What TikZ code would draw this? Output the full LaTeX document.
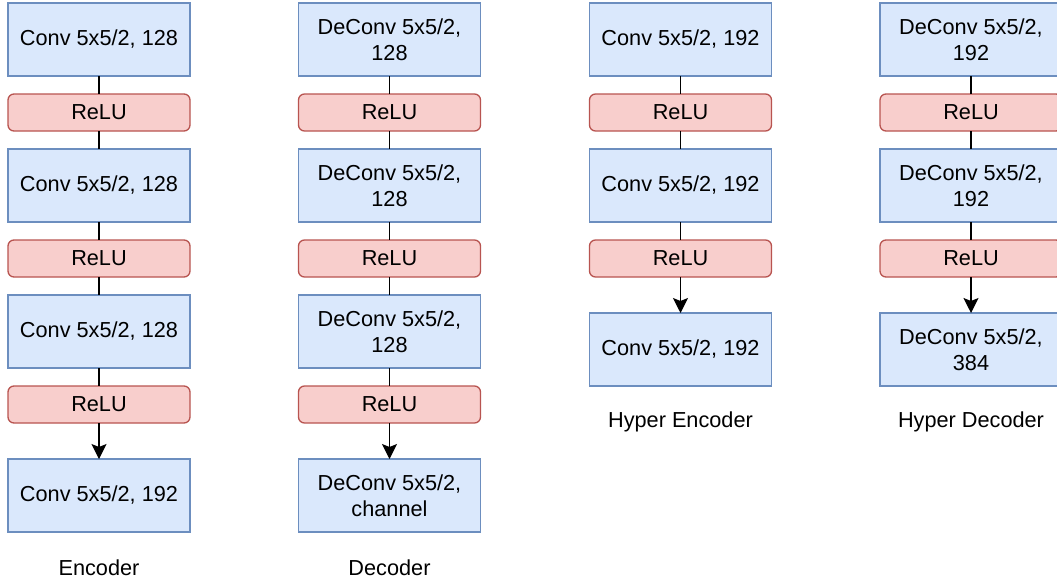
\documentclass[tikz,border=0pt]{standalone}
\usepackage{fontspec}
\setmainfont{Liberation Sans}
\usetikzlibrary{positioning,arrows.meta}
\definecolor{convfill}{HTML}{DAE8FC}
\definecolor{convline}{HTML}{6C8EBF}
\definecolor{relufill}{HTML}{F8CECC}
\definecolor{reluline}{HTML}{B85450}

\begin{document}
\begin{tikzpicture}[x=1pt,y=1pt,
    node distance=18pt,
    every node/.style={font=\fontsize{21.7}{25.5}\selectfont},
    conv/.style={draw=convline, fill=convfill, line width=1.3pt, minimum width=182pt,
      minimum height=73pt, inner sep=0pt, outer sep=0pt, align=center},
    relu/.style={draw=reluline, fill=relufill, line width=1.3pt, rounded corners=6pt,
      minimum width=182pt, minimum height=37pt, inner sep=0pt, outer sep=0pt},
    link/.style={line width=1.3pt},
    arrow/.style={line width=1.3pt, -{Stealth[length=15pt,width=15pt,inset=3pt]}}]
  \useasboundingbox (0,0) rectangle (1057,-581);

  % encoder
  \node (e1) [conv] at (99,-39.5) {Conv 5x5/2, 128};
  \node (er1) [relu, below=of e1] {ReLU};
  \node (e2) [conv, below=of er1] {Conv 5x5/2, 128};
  \node (er2) [relu, below=of e2] {ReLU};
  \node (e3) [conv, below=of er2] {Conv 5x5/2, 128};
  \node (er3) [relu, below=of e3] {ReLU};
  \node (e4) [conv, below=36pt of er3] {Conv 5x5/2, 192};
  \node (enc) at (99,-568) {Encoder};

  % decoder
  \node (d1) [conv] at (389.5,-39.5) {DeConv 5x5/2,\\128};
  \node (dr1) [relu, below=of d1] {ReLU};
  \node (d2) [conv, below=of dr1] {DeConv 5x5/2,\\128};
  \node (dr2) [relu, below=of d2] {ReLU};
  \node (d3) [conv, below=of dr2] {DeConv 5x5/2,\\128};
  \node (dr3) [relu, below=of d3] {ReLU};
  \node (d4) [conv, below=36pt of dr3] {DeConv 5x5/2,\\channel};
  \node (dec) at (389.5,-568) {Decoder};

  % hyper encoder
  \node (he1) [conv] at (680.5,-39.5) {Conv 5x5/2, 192};
  \node (her1) [relu, below=of he1] {ReLU};
  \node (he2) [conv, below=of her1] {Conv 5x5/2, 192};
  \node (her2) [relu, below=of he2] {ReLU};
  \node (he3) [conv, below=36pt of her2] {Conv 5x5/2, 192};
  \node (henc) at (680.5,-422) {Hyper Encoder};

  % hyper decoder
  \node (hd1) [conv] at (971,-39.5) {DeConv 5x5/2,\\192};
  \node (hdr1) [relu, below=of hd1] {ReLU};
  \node (hd2) [conv, below=of hdr1] {DeConv 5x5/2,\\192};
  \node (hdr2) [relu, below=of hd2] {ReLU};
  \node (hd3) [conv, below=36pt of hdr2] {DeConv 5x5/2,\\384};
  \node (hdec) at (971,-422) {Hyper Decoder};

  \draw [link] (e1) -- (er1) -- (e2) -- (er2) -- (e3) -- (er3);
  \draw [arrow] (er3) -- (e4);
  \draw [link] (d1) -- (dr1) -- (d2) -- (dr2) -- (d3) -- (dr3);
  \draw [arrow] (dr3) -- (d4);
  \draw [link] (he1) -- (her1) -- (he2) -- (her2);
  \draw [arrow] (her2) -- (he3);
  \draw [link] (hd1) -- (hdr1) -- (hd2) -- (hdr2);
  \draw [arrow] (hdr2) -- (hd3);
\end{tikzpicture}
\end{document}
